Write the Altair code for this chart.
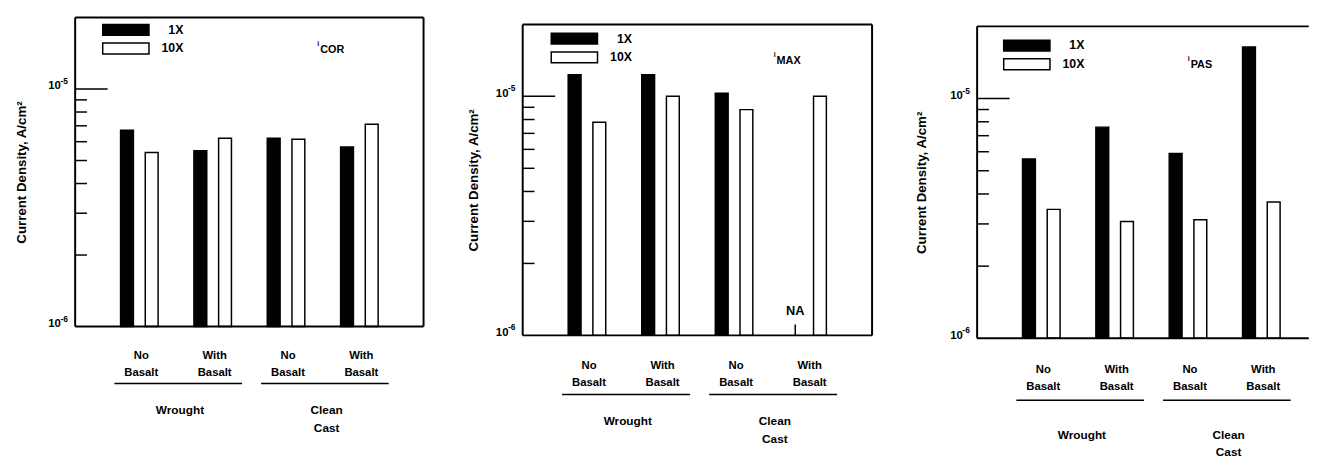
import altair as alt
import pandas as pd

# ---------------- data ----------------
GROUPS = ["Wrought|No|Basalt", "Wrought|With|Basalt",
          "Clean Cast|No|Basalt", "Clean Cast|With|Basalt"]
SERIES = ["1X", "10X"]

ICOR_1X = [6.7e-6, 5.5e-6, 6.2e-6, 5.7e-6]
ICOR_10X = [5.4e-6, 6.2e-6, 6.15e-6, 7.1e-6]
IMAX_1X = [1.23e-5, 1.23e-5, 1.03e-5, None]   # None = NA
IMAX_10X = [7.8e-6, 1.0e-5, 8.8e-6, 1.0e-5]
IPAS_1X = [5.6e-6, 7.6e-6, 5.9e-6, 1.64e-5]
IPAS_10X = [3.45e-6, 3.07e-6, 3.12e-6, 3.7e-6]

PANEL_NAMES = ["COR", "MAX", "PAS"]
Y_DOMAIN = [1e-6, 2e-5]
Y_LABEL_VALUES = [1e-6, 1e-5]
Y_LABEL_EXPONENTS = ["-6", "-5"]
MINOR_TICKS = [2e-6, 3e-6, 4e-6, 5e-6, 6e-6, 7e-6, 8e-6, 9e-6]
MAJOR_TICKS = [1e-5]
FAMILY_LABELS = ["Wrought", "Clean\nCast"]
FAMILY_FIRST = ["Wrought|No|Basalt", "Clean Cast|No|Basalt"]
FAMILY_LAST = ["Wrought|With|Basalt", "Clean Cast|With|Basalt"]

FONT = "Liberation Sans"
Y_TITLE = "Current Density, A/cm²"


def panel(one_x, ten_x, name, width, h, top, xrange, legend_xy, name_xy,
          lab_pad, line_dy, fam_dy, title_pad, right_edge=True):
    H = top + h  # view height; the frame spans [top, H]
    df = pd.DataFrame({
        "group": GROUPS * 2,
        "series": ["1X"] * 4 + ["10X"] * 4,
        "value": [float("nan") if v is None else v for v in list(one_x) + list(ten_x)],
    })
    xs = alt.Scale(domain=GROUPS, paddingInner=0, paddingOuter=0.375, range=xrange)
    xo = alt.Scale(domain=SERIES, paddingInner=0.48, paddingOuter=0.725)
    ys = alt.Scale(type="log", domain=Y_DOMAIN, nice=False, range=[H, top])
    fs = alt.Scale(domain=SERIES, range=["black", "white"])

    xaxis = alt.Axis(domain=False, ticks=False, grid=False,
                     labelExpr="slice(split(datum.label, '|'), 1)",
                     labelFont=FONT, labelFontSize=11.5, labelFontWeight="bold",
                     labelColor="black", labelLineHeight=17,
                     labelPadding=lab_pad, labelOffset=2, labelAngle=0)
    yaxis = alt.Axis(values=Y_LABEL_VALUES, domain=False, ticks=False, grid=False,
                     labelExpr="'10'",
                     labelFont=FONT, labelFontSize=11.5, labelFontWeight="bold",
                     labelColor="black", labelBaseline="alphabetic",
                     labelPadding=15, minExtent=31, maxExtent=31,
                     titleFont=FONT, titleFontSize=13.5, titleFontWeight="bold",
                     titleColor="black", titlePadding=title_pad)

    def X(field, **kw):
        return alt.X(field, scale=xs, title=None, axis=xaxis, **kw)

    def Y(field):
        return alt.Y(field, scale=ys, title=Y_TITLE, axis=yaxis)

    bars = alt.Chart(df).transform_filter("isValid(datum.value)").mark_bar(
        stroke="black", strokeWidth=1.5
    ).encode(
        x=X("group:N"),
        xOffset=alt.XOffset("series:N", scale=xo),
        y=Y("value:Q"),
        y2=alt.datum(Y_DOMAIN[0]),
        fill=alt.Fill("series:N", scale=fs,
                      legend=alt.Legend(orient="none", legendX=legend_xy[0],
                                        legendY=top + legend_xy[1] - 2, title=None,
                                        symbolType="M-1,-1H7.545V1H-1Z",
                                        symbolSize=121, symbolStrokeColor="black",
                                        symbolStrokeWidth=1.5, symbolOpacity=1,
                                        labelFont=FONT, labelFontSize=12.5,
                                        labelFontWeight="bold", labelColor="black",
                                        labelAlign="right", labelOffset=70,
                                        rowPadding=2, padding=0)),
    )

    # exponents of the y tick labels (10^-6, 10^-5)
    expo = alt.Chart(pd.DataFrame({"v": Y_LABEL_VALUES, "e": Y_LABEL_EXPONENTS})).mark_text(
        font=FONT, fontSize=8.5, fontWeight="bold", color="black",
        align="left", baseline="alphabetic", dy=-5).encode(
        y=Y("v:Q"), x=alt.value(-15), text="e:N")

    na = alt.Chart(df).transform_filter("!isValid(datum.value)")
    na_text = na.mark_text(font=FONT, fontSize=13, fontWeight="bold",
                           color="black", baseline="middle").encode(
        x=X("group:N"),
        xOffset=alt.XOffset("series:N", scale=xo),
        y=alt.value(H - 25),
        text=alt.value("NA"),
    )
    na_tick = na.mark_rule(color="black", strokeWidth=1.5).encode(
        x=X("group:N"),
        xOffset=alt.XOffset("series:N", scale=xo),
        y=alt.value(H),
        y2=alt.value(H - 11),
    )

    minor = alt.Chart(pd.DataFrame({"v": MINOR_TICKS})).mark_rule(
        color="black", strokeWidth=1.5).encode(
        y=Y("v:Q"), x=alt.value(0), x2=alt.value(12),
    )
    major = alt.Chart(pd.DataFrame({"v": MAJOR_TICKS})).mark_rule(
        color="black", strokeWidth=1.5).encode(
        y=Y("v:Q"), x=alt.value(0), x2=alt.value(33),
    )

    fam = pd.DataFrame({"label": FAMILY_LABELS, "first": FAMILY_FIRST, "last": FAMILY_LAST})
    fam_text = alt.Chart(fam).mark_text(
        font=FONT, fontSize=12, fontWeight="bold", color="black",
        baseline="middle", lineBreak="\n", lineHeight=18, dx=4).encode(
        x=X("first:N", bandPosition=1),
        y=alt.value(H + fam_dy),
        text="label:N",
    )
    fam_line = alt.Chart(fam).mark_rule(color="black", strokeWidth=1.5).encode(
        x=X("first:N", bandPosition=0.16),
        x2=alt.X2("last:N", bandPosition=0.9),
        y=alt.value(H + line_dy),
    )

    lab = alt.Chart(pd.DataFrame({"n": [name]}))
    sub = lab.mark_text(font=FONT, fontSize=11, fontWeight="bold", color="black",
                        align="left", baseline="middle").encode(
        x=alt.value(name_xy[0] + 3), y=alt.value(top + name_xy[1]), text="n:N")
    ii = lab.mark_text(font=FONT, fontSize=7, fontWeight="bold", color="black",
                       align="left", baseline="middle").encode(
        x=alt.value(name_xy[0]), y=alt.value(top + name_xy[1] - 6), text=alt.value("i"))

    # frame of the plot area
    frame = [
        lab.mark_rule(color="black", strokeWidth=2).encode(
            x=alt.value(0), x2=alt.value(width), y=alt.value(top)),
        lab.mark_rule(color="black", strokeWidth=2).encode(
            x=alt.value(0), x2=alt.value(width), y=alt.value(H)),
        lab.mark_rule(color="black", strokeWidth=2).encode(
            x=alt.value(0), y=alt.value(top), y2=alt.value(H)),
    ]
    if right_edge:
        frame.append(lab.mark_rule(color="black", strokeWidth=2).encode(
            x=alt.value(width), y=alt.value(top), y2=alt.value(H)))

    layers = [bars, expo, na_text, na_tick, minor, major, fam_line, fam_text, sub, ii] + frame
    return alt.layer(*layers).properties(width=width, height=H)


p1 = panel(ICOR_1X, ICOR_10X, PANEL_NAMES[0], 354, 314, 0, [0, 354], (27, 8), (246, 33),
           24, 58, 85, 16.25)
p2 = panel(IMAX_1X, IMAX_10X, PANEL_NAMES[1], 355, 316, 7, [0, 355], (28, 10), (255, 37),
           25, 60, 87, 12.25)
p3 = panel(IPAS_1X, IPAS_10X, PANEL_NAMES[2], 337, 317, 9, [0, 354], (26, 15), (214, 39),
           26, 63, 98, 18.25, right_edge=False)

chart = alt.hconcat(p1, p2, p3, spacing=41.75).resolve_scale(
    x="independent", y="independent", fill="independent"
).resolve_legend(fill="independent").properties(
    padding={"left": 6.25, "top": 5, "right": 0, "bottom": 0}
).configure_view(stroke=None)

chart.save("out.html", embed_options={"renderer": "svg", "actions": False})
